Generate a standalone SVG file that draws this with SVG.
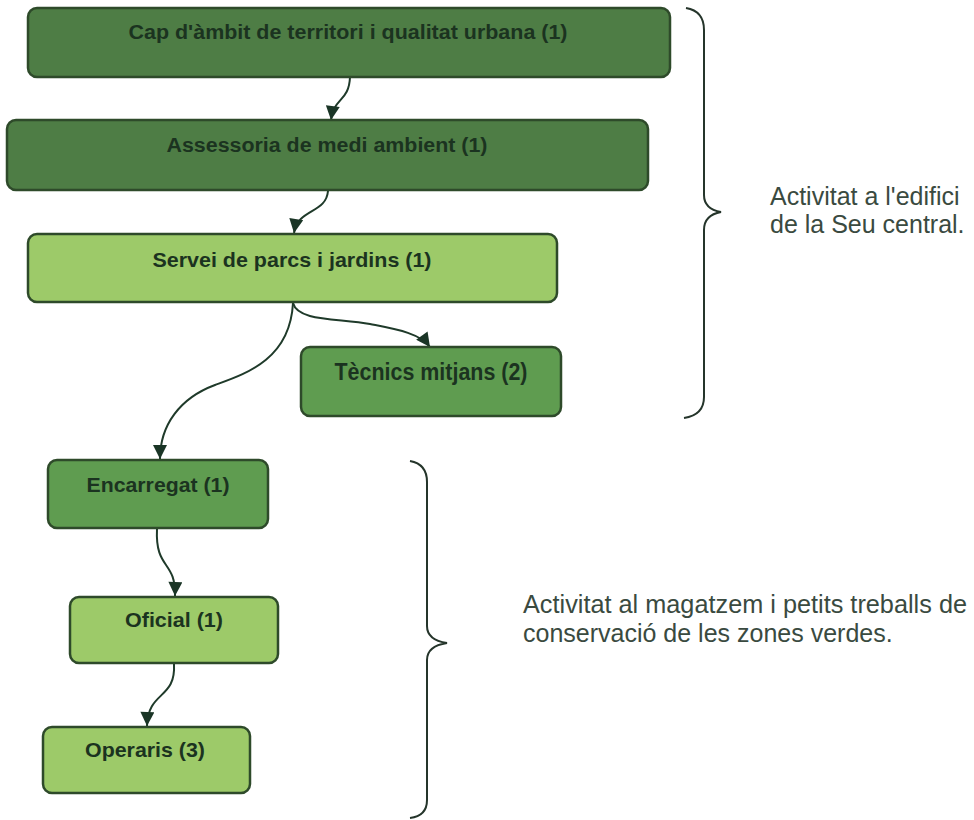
<svg xmlns="http://www.w3.org/2000/svg" width="974" height="820" viewBox="0 0 974 820">
<style>
.box{stroke:#2e4a2a;stroke-width:2.5}
.dark{fill:#4e7d45}
.mid{fill:#5f9c50}
.light{fill:#9dca69}
.lbl{font-family:"Liberation Sans",Arial,sans-serif;font-weight:bold;fill:#1b3320;text-anchor:middle}
.note{font-family:"Liberation Sans",Arial,sans-serif;font-size:25px;fill:#3a4a40}
.conn{fill:none;stroke:#1f3a2a;stroke-width:2}
.brace{fill:none;stroke:#25352b;stroke-width:2}
</style>
<defs>
<marker id="ah" viewBox="0 0 10 10" refX="10" refY="5" markerWidth="15" markerHeight="14" markerUnits="userSpaceOnUse" orient="auto">
<path d="M0,0 L10,5 L0,10 z" fill="#1a3526"/>
</marker>
</defs>
<rect width="974" height="820" fill="#ffffff"/>

<g id="connectors">
<path class="conn" marker-end="url(#ah)" d="M350,77 C349,102 334,97 331,120"/>
<path class="conn" marker-end="url(#ah)" d="M328,191 C326,214 298,208 294,233"/>
<path class="conn" marker-end="url(#ah)" d="M293,303 C298,322 340,318 370,324 C395,329 420,333 430,347"/>
<path class="conn" marker-end="url(#ah)" d="M293,303 C290,360 245,374 215,385 C180,398 160,425 160,459"/>
<path class="conn" marker-end="url(#ah)" d="M157,529 C155,570 176,560 175,596"/>
<path class="conn" marker-end="url(#ah)" d="M174,664 C176,700 148,690 147,726"/>
</g>

<g id="node-cap">
<rect class="box dark" x="28" y="8" width="642" height="69" rx="9"/>
<text class="lbl" x="348" y="39" font-size="20" textLength="439" lengthAdjust="spacingAndGlyphs">Cap d'àmbit de territori i qualitat urbana (1)</text>
</g>
<g id="node-assessoria">
<rect class="box dark" x="7" y="120" width="641" height="70" rx="9"/>
<text class="lbl" x="327" y="152" font-size="20" textLength="321" lengthAdjust="spacingAndGlyphs">Assessoria de medi ambient (1)</text>
</g>
<g id="node-servei">
<rect class="box light" x="28" y="234" width="529" height="68" rx="9"/>
<text class="lbl" x="292" y="267" font-size="21" textLength="279" lengthAdjust="spacingAndGlyphs">Servei de parcs i jardins (1)</text>
</g>
<g id="node-tecnics">
<rect class="box mid" x="301" y="347" width="260" height="69" rx="9"/>
<text class="lbl" x="431" y="380" font-size="23" textLength="193" lengthAdjust="spacingAndGlyphs">Tècnics mitjans (2)</text>
</g>
<g id="node-encarregat">
<rect class="box mid" x="48" y="460" width="220" height="68" rx="9"/>
<text class="lbl" x="158" y="492" font-size="21" textLength="143" lengthAdjust="spacingAndGlyphs">Encarregat (1)</text>
</g>
<g id="node-oficial">
<rect class="box light" x="70" y="597" width="208" height="66" rx="9"/>
<text class="lbl" x="174" y="627" font-size="21" textLength="98" lengthAdjust="spacingAndGlyphs">Oficial (1)</text>
</g>
<g id="node-operaris">
<rect class="box light" x="43" y="727" width="207" height="66" rx="9"/>
<text class="lbl" x="145" y="757" font-size="21" textLength="120" lengthAdjust="spacingAndGlyphs">Operaris (3)</text>
</g>

<g id="brace-seu">
<path class="brace" d="M686,8 Q704,11 704,30 L704,195 Q704,209 721,212 Q704,215 704,230 L704,397 Q704,415 684,418"/>
<text class="note" x="770" y="205">Activitat a l'edifici</text>
<text class="note" x="770" y="233">de la Seu central.</text>
</g>
<g id="brace-magatzem">
<path class="brace" d="M410,461 Q427,464 427,482 L427,626 Q427,640 447,643 Q427,646 427,660 L427,800 Q427,816 410,818"/>
<text class="note" x="523" y="613" textLength="444" lengthAdjust="spacingAndGlyphs">Activitat al magatzem i petits treballs de</text>
<text class="note" x="523" y="642">conservació de les zones verdes.</text>
</g>
</svg>
